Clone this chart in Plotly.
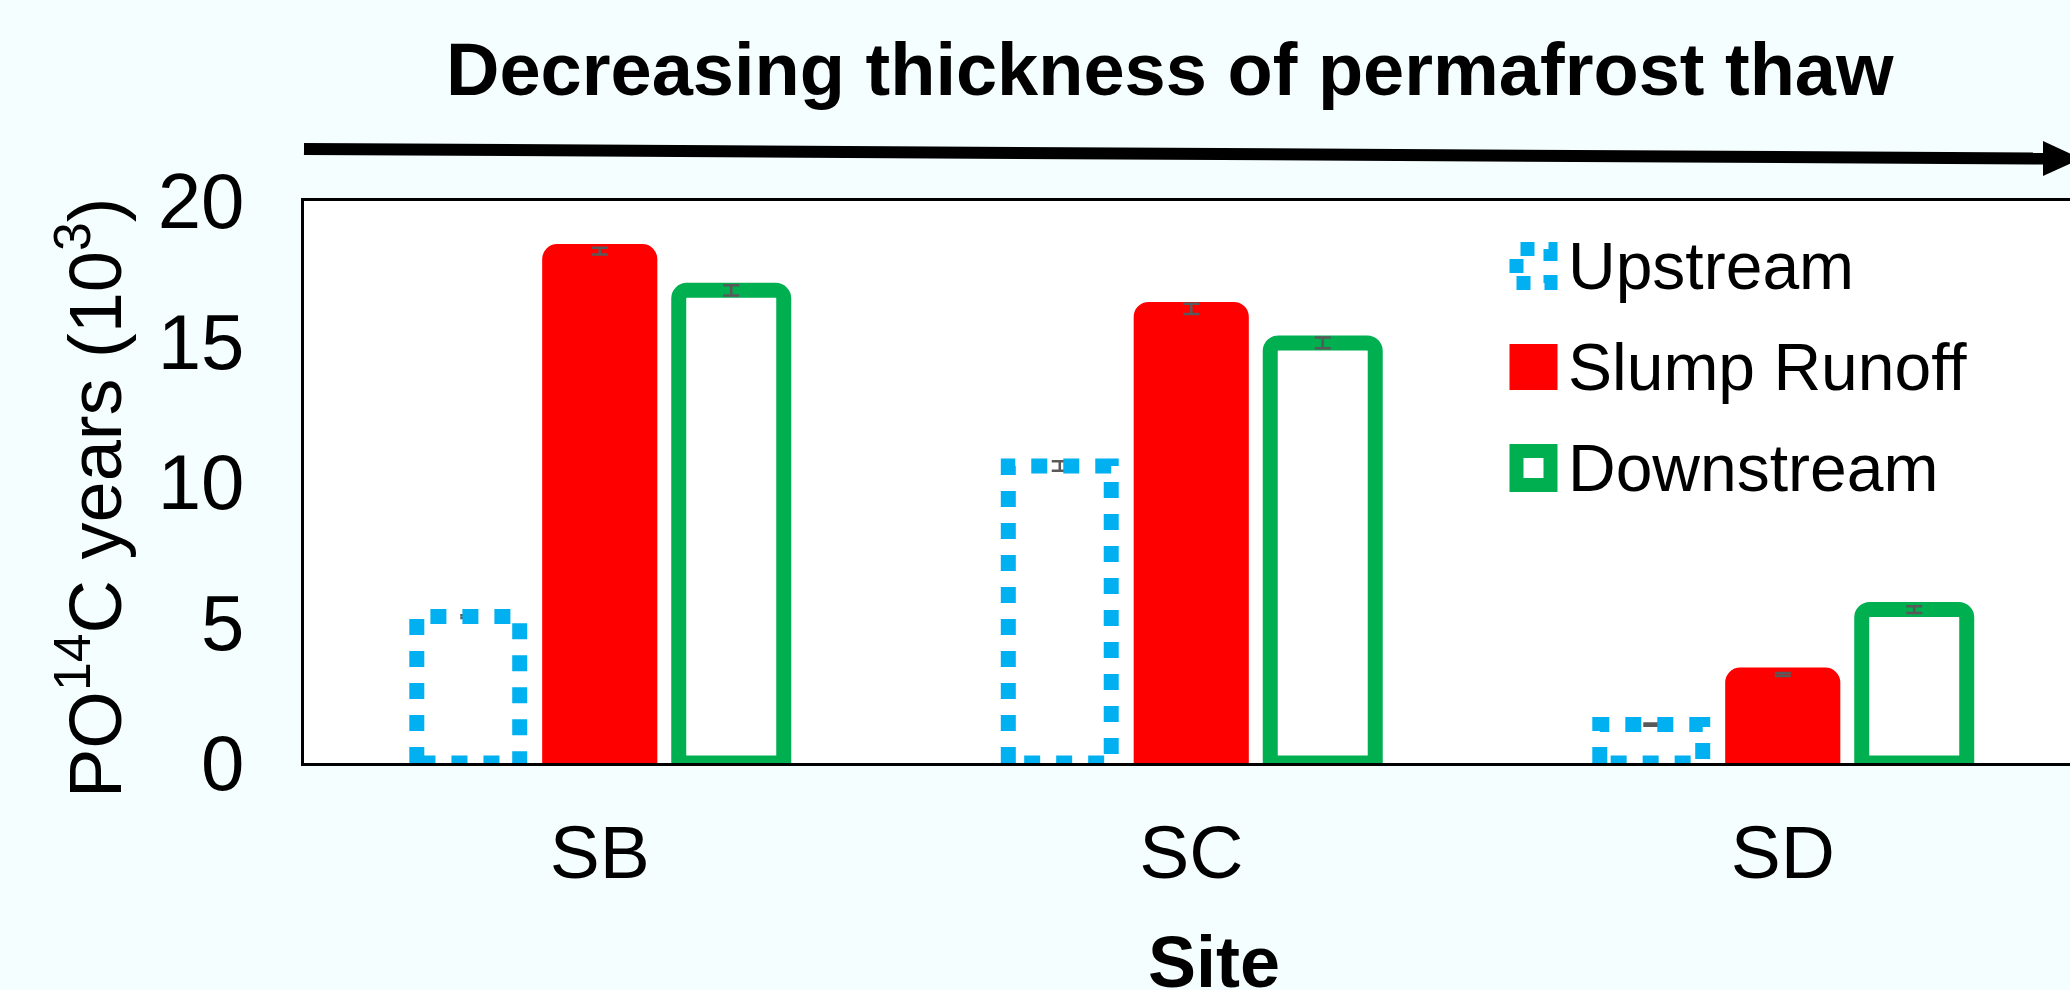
import numpy as np
import plotly.graph_objects as go

# ---------------- data ----------------
sites = ["SB", "SC", "SD"]
upstream = [5.21, 10.57, 1.37]
slump_runoff = [18.22, 16.16, 3.15]
downstream = [16.82, 14.95, 5.46]
upstream_err = [0.05, 0.17, 0.04]
slump_err = [0.12, 0.18, 0.05]
downstream_err = [0.18, 0.19, 0.12]
series_names = ["Upstream", "Slump Runoff", "Downstream"]
y_ticks = [0, 5, 10, 15, 20]

# ---------------- style ----------------
W, H = 2070, 990
L, R, T, B = 304, 2070, 201, 763
BLUE, RED, GREEN, ERR = "#00B0F0", "#FF0000", "#00B050", "#595959"
BG = "#F5FEFE"
FONT = "Liberation Sans, Arial, sans-serif"

shift = 0.2223
w_up, w_red, w_green = 0.174, 0.171, 0.1775

xpos = np.arange(len(sites), dtype=float)


def px2x(px):
    return (px - L) / (R - L)


def py2y(py):
    return (B - py) / (B - T)


fig = go.Figure()

err_style = dict(type="data", visible=True, color=ERR, thickness=2.5, width=8)

# Upstream: transparent bar (carries data + error bars) + dotted outline
fig.add_trace(go.Bar(
    name=series_names[0], x=xpos - shift, y=upstream, width=w_up,
    marker=dict(color="rgba(0,0,0,0)", line=dict(width=0)),
    error_y=dict(array=upstream_err, **err_style), showlegend=False))

ox, oy = [], []
for xc, v in zip(xpos - shift, upstream):
    x0, x1 = xc - w_up / 2, xc + w_up / 2
    ox += [x0, x0, x1, x1, x0, None]
    oy += [0, v, v, 0, 0, None]
fig.add_trace(go.Scatter(
    x=ox, y=oy, mode="lines", name=series_names[0],
    line=dict(color=BLUE, width=15, dash="16px,16px"),
    hoverinfo="skip", showlegend=False))

fig.add_trace(go.Bar(
    name=series_names[1], x=xpos, y=slump_runoff, width=w_red,
    marker=dict(color=RED, line=dict(color=RED, width=14), cornerradius=8),
    error_y=dict(array=slump_err, **err_style), showlegend=False))

fig.add_trace(go.Bar(
    name=series_names[2], x=xpos + shift, y=downstream, width=w_green,
    marker=dict(color="white", line=dict(color=GREEN, width=15), cornerradius=8),
    error_y=dict(array=downstream_err, **err_style), showlegend=False))

# ---------------- decorations ----------------
shapes = []
# arrow
shapes.append(dict(type="line", xref="paper", yref="paper",
                   x0=px2x(304), y0=py2y(149), x1=px2x(2046), y1=py2y(158.5),
                   line=dict(color="black", width=12), layer="above"))
tri = "M {:.5f},{:.5f} L {:.5f},{:.5f} L {:.5f},{:.5f} Z".format(
    px2x(2043), py2y(141), px2x(2081), py2y(158.7), px2x(2043), py2y(176))
shapes.append(dict(type="path", xref="paper", yref="paper", path=tri,
                   fillcolor="black", line=dict(width=0), layer="above"))

# legend icons
rows = [266, 367, 468]
icx = 1533.5
s = 17
shapes.append(dict(type="rect", xref="paper", yref="paper",
                   x0=px2x(icx - s), x1=px2x(icx + s), y0=py2y(rows[0] + s), y1=py2y(rows[0] - s),
                   line=dict(color=BLUE, width=14, dash="dot"), fillcolor="rgba(0,0,0,0)"))
shapes.append(dict(type="rect", xref="paper", yref="paper",
                   x0=px2x(icx - 24), x1=px2x(icx + 24), y0=py2y(rows[1] + 23), y1=py2y(rows[1] - 23),
                   line=dict(width=0), fillcolor=RED))
shapes.append(dict(type="rect", xref="paper", yref="paper",
                   x0=px2x(icx - s), x1=px2x(icx + s), y0=py2y(rows[2] + s), y1=py2y(rows[2] - s),
                   line=dict(color=GREEN, width=14), fillcolor="white"))

annotations = []
for name, ry in zip(series_names, rows):
    annotations.append(dict(text=name, xref="paper", yref="paper", x=px2x(1566), y=py2y(ry),
                            xanchor="left", yanchor="middle", showarrow=False,
                            font=dict(size=66, color="black", family=FONT)))

annotations.append(dict(text="<b>Decreasing thickness of permafrost thaw</b>",
                        xref="paper", yref="paper", x=px2x(1170), y=py2y(70),
                        xanchor="center", yanchor="middle", showarrow=False,
                        font=dict(size=74, color="black", family=FONT)))
annotations.append(dict(text="<b>Site</b>", xref="paper", yref="paper",
                        x=px2x(1214), y=py2y(962), xanchor="center", yanchor="middle",
                        showarrow=False, font=dict(size=72, color="black", family=FONT)))
annotations.append(dict(text="PO<sup>14</sup>C years (10<sup>3</sup>)", xref="paper", yref="paper",
                        x=px2x(90), y=py2y(498), xanchor="center", yanchor="middle",
                        textangle=-90, showarrow=False,
                        font=dict(size=74, color="black", family=FONT)))

fig.update_layout(
    width=W, height=H,
    margin=dict(l=L, r=W - R, t=T, b=H - B, pad=0),
    paper_bgcolor=BG, plot_bgcolor="white",
    barmode="overlay",
    shapes=shapes, annotations=annotations,
    showlegend=False,
    font=dict(family=FONT, color="black"),
)
fig.update_xaxes(
    range=[-0.5, -0.5 + (R - L) / 591.5],
    tickmode="array", tickvals=xpos, ticktext=sites,
    showgrid=False, zeroline=False, ticks="",
    showline=True, linecolor="black", linewidth=3, mirror=True,
    tickfont=dict(size=75, color="black", family=FONT),
    ticklabelstandoff=22,
)
fig.update_yaxes(
    range=[0, 20], tickmode="array", tickvals=y_ticks,
    showgrid=False, zeroline=False, ticks="",
    showline=True, linecolor="black", linewidth=3,
    tickfont=dict(size=78, color="black", family=FONT),
    ticklabelstandoff=41,
)

fig.write_html(
    "out.html",
    config={"displayModeBar": False},
    post_script="document.body.style.margin='0px';"
                "document.body.style.overflow='hidden';"
                "document.body.style.background='" + BG + "';",
)
